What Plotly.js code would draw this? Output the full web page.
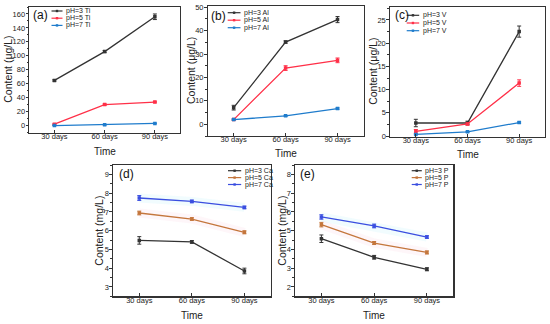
<!DOCTYPE html>
<html><head><meta charset="utf-8">
<script src="https://cdn.plot.ly/plotly-3.0.1.min.js"></script>
<style>html,body{margin:0;padding:0;background:#fff}#c{width:550px;height:324px}</style>
</head><body><div id="c"></div>
<script>
// ---- data ----
const categories = ['30 days', '60 days', '90 days'];

const tiNames = ['pH=3 Ti', 'pH=5 Ti', 'pH=7 Ti'];
const tiPH3 = [64.7, 106, 156];
const tiPH5 = [2, 30, 33.7];
const tiPH7 = [0, 1, 3];
const tiErr3 = [1, 1.5, 4];
const tiErr5 = [0.6, 1, 1];
const tiErr7 = [0.3, 0.3, 0.5];

const alNames = ['pH=3 Al', 'pH=5 Al', 'pH=7 Al'];
const alPH3 = [7.1, 35.1, 44.7];
const alPH5 = [2.0, 24, 27.3];
const alPH7 = [2.0, 3.6, 6.7];
const alErr3 = [1, 0.5, 1.3];
const alErr5 = [0.3, 1, 1];
const alErr7 = [0.2, 0.2, 0.3];

const vNames = ['pH=3 V', 'pH=5 V', 'pH=7 V'];
const vPH3 = [2.8, 2.8, 22.5];
const vPH5 = [1.0, 2.6, 11.4];
const vPH7 = [0.35, 0.9, 2.9];
const vErr3 = [0.8, 0.4, 1.2];
const vErr5 = [0.4, 0.2, 0.7];
const vErr7 = [0.1, 0.1, 0.15];

const caNames = ['pH=3 Ca', 'pH=5 Ca', 'pH=7 Ca'];
const caPH3 = [5.48, 5.4, 3.85];
const caPH5 = [6.94, 6.62, 5.91];
const caPH7 = [7.74, 7.56, 7.24];
const caErr3 = [0.2, 0.07, 0.15];
const caErr5 = [0.1, 0.07, 0.08];
const caErr7 = [0.13, 0.07, 0.07];

const pNames = ['pH=3 P', 'pH=5 P', 'pH=7 P'];
const pPH3 = [4.57, 3.58, 2.94];
const pPH5 = [5.32, 4.34, 3.84];
const pPH7 = [5.73, 5.25, 4.66];
const pErr3 = [0.2, 0.1, 0.08];
const pErr5 = [0.12, 0.08, 0.08];
const pErr7 = [0.12, 0.1, 0.07];

const panelLabels = ['(a)', '(b)', '(c)', '(d)', '(e)'];
const yTitles = ['Content (μg/L)', 'Content (μg/L)', 'Content (μg/L)', 'Content (mg/L)', 'Content (mg/L)'];
const xTitle = 'Time';

// ---- styling ----
const topColors = ['#333333', '#ff3048', '#1f7ccc'];
const botColors = ['#333333', '#c4763c', '#3a4ee0'];
const bandColors = [null, 'rgba(250,200,215,0.16)', 'rgba(190,240,250,0.22)'];
const W = 550, H = 324;
const FONT = 'Liberation Sans, Arial, sans-serif';

const panels = [
  {names: tiNames, ys: [tiPH3, tiPH5, tiPH7], errs: [tiErr3, tiErr5, tiErr7], colors: topColors,
   px: [29.3, 180], py: [7, 132.5], range: [-10, 170], dtick: 20, band: false,
   leg: {lx: 51.5, tx: 64, y0: 11, dy: 7.2}, lab: [31, 15], ytx: 8, xty: 151},
  {names: alNames, ys: [alPH3, alPH5, alPH7], errs: [alErr3, alErr5, alErr7], colors: topColors,
   px: [207.7, 363.5], py: [6, 136], range: [-5, 50.5], dtick: 10, band: false,
   leg: {lx: 227.7, tx: 242, y0: 12.7, dy: 7.5}, lab: [209, 15.7], ytx: 191, xty: 153},
  {names: vNames, ys: [vPH3, vPH5, vPH7], errs: [vErr3, vErr5, vErr7], colors: topColors,
   px: [390, 545], py: [7, 136.7], range: [-0.15, 27.8], dtick: 5, band: false,
   leg: {lx: 406.7, tx: 420.7, y0: 15.3, dy: 7.7}, lab: [393, 15], ytx: 373, xty: 154},
  {names: caNames, ys: [caPH3, caPH5, caPH7], errs: [caErr3, caErr5, caErr7], colors: botColors,
   px: [113, 270.7], py: [165, 296.3], range: [2.5, 9.5], dtick: 1, band: true,
   leg: {lx: 228, tx: 242.7, y0: 170.7, dy: 6.9}, lab: [116.7, 174], ytx: 99, xty: 315.7},
  {names: pNames, ys: [pPH3, pPH5, pPH7], errs: [pErr3, pErr5, pErr7], colors: botColors,
   px: [295, 453.3], py: [165, 296.3], range: [1.5, 8.5], dtick: 1, band: true,
   leg: {lx: 411.7, tx: 423.3, y0: 170.7, dy: 6.9}, lab: [298, 174], ytx: 282, xty: 315.7}
];

const fx = p => p / W;
const fy = p => 1 - p / H;

const traces = [];
const layout = {
  width: W, height: H, margin: {l: 0, r: 0, t: 0, b: 0},
  paper_bgcolor: '#fff', plot_bgcolor: '#fff', showlegend: false,
  font: {family: FONT, color: '#222', size: 8},
  annotations: [], shapes: []
};

panels.forEach((P, i) => {
  const n = i === 0 ? '' : String(i + 1);
  const xa = 'x' + n, ya = 'y' + n;
  layout['xaxis' + n] = {
    domain: [fx(P.px[0]), fx(P.px[1])], anchor: ya, type: 'category',
    range: [-0.5, 2.5], showline: true, mirror: true, linecolor: '#333', linewidth: 1.2,
    ticks: 'inside', ticklen: 3, tickcolor: '#333', showgrid: false, zeroline: false,
    ticklabelstandoff: -4,
    tickfont: {family: FONT, size: 7.5, color: '#222'}, fixedrange: true
  };
  layout['yaxis' + n] = {
    domain: [fy(P.py[1]), fy(P.py[0])], anchor: xa, range: P.range, dtick: P.dtick,
    showline: true, mirror: true, linecolor: '#333', linewidth: 1.2,
    ticks: 'outside', ticklen: 2.5, tickcolor: '#333', showgrid: false, zeroline: false,
    ticklabelstandoff: -1,
    minor: {dtick: P.dtick / 2, ticks: 'outside', ticklen: 1.5, tickcolor: '#333', showgrid: false},
    tickfont: {family: FONT, size: 7.5, color: '#222'}, fixedrange: true
  };
  if (P.band) {
    [1, 2].forEach(k => {
      traces.push({x: categories, y: P.ys[k], xaxis: xa, yaxis: ya, type: 'scatter', mode: 'lines',
        line: {color: bandColors[k], width: 9}, hoverinfo: 'skip', showlegend: false});
    });
  }
  P.ys.forEach((ys, k) => {
    traces.push({
      x: categories, y: ys, xaxis: xa, yaxis: ya, type: 'scatter', mode: 'lines+markers',
      name: P.names[k], line: {color: P.colors[k], width: 1.3},
      marker: {color: P.colors[k], size: 3.5, symbol: 'square'},
      error_y: {type: 'data', array: P.errs[k], visible: true, color: P.colors[k], thickness: 1, width: 2}
    });
    const ly = P.leg.y0 + k * P.leg.dy;
    layout.shapes.push({type: 'line', xref: 'paper', yref: 'paper',
      x0: fx(P.leg.lx), x1: fx(P.leg.tx - 1.5), y0: fy(ly), y1: fy(ly),
      line: {color: P.colors[k], width: 1.2}});
    const mx = (P.leg.lx + P.leg.tx - 1.5) / 2;
    layout.shapes.push({type: 'rect', xref: 'paper', yref: 'paper',
      x0: fx(mx - 1.2), x1: fx(mx + 1.2), y0: fy(ly - 1.2), y1: fy(ly + 1.2),
      fillcolor: P.colors[k], line: {width: 0}});
    layout.annotations.push({xref: 'paper', yref: 'paper', x: fx(P.leg.tx), y: fy(ly),
      xanchor: 'left', yanchor: 'middle', showarrow: false, text: P.names[k],
      font: {family: FONT, size: 7, color: '#222'}});
  });
  layout.annotations.push({xref: 'paper', yref: 'paper', x: fx(P.lab[0]), y: fy(P.lab[1]),
    xanchor: 'left', yanchor: 'middle', showarrow: false, text: panelLabels[i],
    font: {family: FONT, size: 12, color: '#111'}});
  layout.annotations.push({xref: 'paper', yref: 'paper', x: fx(P.ytx), y: fy((P.py[0] + P.py[1]) / 2),
    xanchor: 'center', yanchor: 'middle', showarrow: false, textangle: -90, text: yTitles[i],
    font: {family: FONT, size: 10.5, color: '#222'}});
  layout.annotations.push({xref: 'paper', yref: 'paper', x: fx((P.px[0] + P.px[1]) / 2), y: fy(P.xty),
    xanchor: 'center', yanchor: 'middle', showarrow: false, text: xTitle,
    font: {family: FONT, size: 10, color: '#222'}});
});

Plotly.newPlot('c', traces, layout, {staticPlot: true, displayModeBar: false});
</script></body></html>
